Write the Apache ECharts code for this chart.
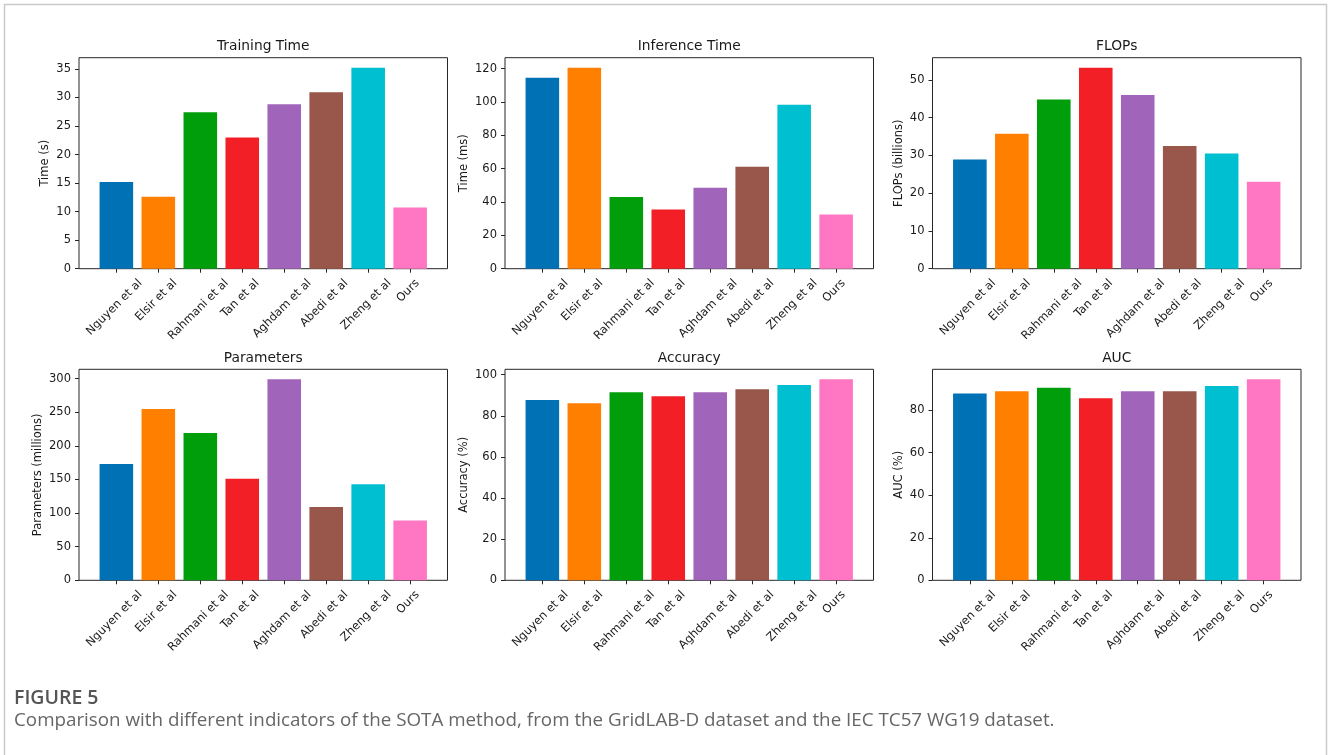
<!DOCTYPE html>
<html>
<head>
<meta charset="utf-8">
<script src="https://cdn.jsdelivr.net/npm/echarts@6/dist/echarts.min.js"></script>
<style>
html,body{margin:0;padding:0;background:#fff;}
#chart{width:1328px;height:755px;}
</style>
</head>
<body>
<div id="chart"></div>
<script>
// ---------------- data ----------------
const categories = ['Nguyen et al', 'Elsir et al', 'Rahmani et al', 'Tan et al', 'Aghdam et al', 'Abedi et al', 'Zheng et al', 'Ours'];
const trainingTime = [15.2, 12.6, 27.4, 23.0, 28.8, 30.9, 35.2, 10.7];
const inferenceTime = [114.6, 120.6, 43.0, 35.6, 48.6, 61.2, 98.4, 32.6];
const flops = [28.9, 35.7, 44.8, 53.2, 46.0, 32.5, 30.5, 23.0];
const parameters = [173, 255, 219, 151, 299, 109, 143, 89];
const accuracy = [87.7, 86.1, 91.4, 89.5, 91.4, 92.9, 95.0, 97.7];
const auc = [87.8, 88.9, 90.6, 85.6, 88.9, 88.9, 91.4, 94.5];

const trainingTicks = [0, 5, 10, 15, 20, 25, 30, 35];
const inferenceTicks = [0, 20, 40, 60, 80, 100, 120];
const flopsTicks = [0, 10, 20, 30, 40, 50];
const parameterTicks = [0, 50, 100, 150, 200, 250, 300];
const accuracyTicks = [0, 20, 40, 60, 80, 100];
const aucTicks = [0, 20, 40, 60, 80];

const titles = ['Training Time', 'Inference Time', 'FLOPs', 'Parameters', 'Accuracy', 'AUC'];
const yLabels = ['Time (s)', 'Time (ms)', 'FLOPs (billions)', 'Parameters (millions)', 'Accuracy (%)', 'AUC (%)'];
const captionHead = 'FIGURE 5';
const captionText = 'Comparison with different indicators of the SOTA method, from the GridLAB-D dataset and the IEC TC57 WG19 dataset.';

const palette = ['#0171b6', '#ff7f00', '#009e0b', '#f21f26', '#a065ba', '#99564a', '#00bfd0', '#ff77c3'];

// ---------------- layout / style ----------------
const FONT = '"DejaVu Sans", sans-serif';
const TICK_SIZE = 11.5;
const TITLE_SIZE = 13.8;
const TEXT_COLOR = '#1a1a1a';
const AX_COLOR = '#262626';
const colLeft = [79, 505, 932.5];
const colWidth = 368.5;
const rowTop = [57.7, 369.3];
const rowHeight = 211;
const LH = 13;

const canvas = document.createElement('canvas');
const ctx = canvas.getContext('2d');
function measure(t, size) { ctx.font = size + 'px ' + FONT; return ctx.measureText(t).width; }

const panels = [
  { values: trainingTime, ticks: trainingTicks },
  { values: inferenceTime, ticks: inferenceTicks },
  { values: flops, ticks: flopsTicks },
  { values: parameters, ticks: parameterTicks },
  { values: accuracy, ticks: accuracyTicks },
  { values: auc, ticks: aucTicks }
];

const labelWidths = categories.map(function (c) { return measure(c, TICK_SIZE); });

function renderCategoryLabel(params, api) {
  const pt = api.coord([api.value(0), 0]);
  const w = labelWidths[params.dataIndex];
  const d = 8 + Math.SQRT1_2 * (w + LH) / 2;
  return {
    type: 'text', x: pt[0] - 2, y: pt[1] + d, rotation: Math.PI / 4, silent: true,
    style: { text: categories[params.dataIndex], align: 'center', verticalAlign: 'middle', font: TICK_SIZE + 'px ' + FONT, fill: TEXT_COLOR }
  };
}

const grid = [], xAxis = [], yAxis = [], series = [], title = [];
panels.forEach(function (p, i) {
  const col = i % 3, row = Math.floor(i / 3);
  const L = colLeft[col], T = rowTop[row], W = colWidth, H = rowHeight;
  const n = categories.length;
  const marginUnits = 0.05 * (n - 1 + 0.8);
  const band = W / (n + 2 * marginUnits);
  const m = band * marginUnits;
  const maxV = Math.max.apply(null, p.values) * 1.05;
  const maxLabelW = Math.max.apply(null, p.ticks.map(function (t) { return measure(String(t), TICK_SIZE); }));

  // outer frame grid
  grid.push({ left: L, top: T, width: W, height: H, show: true, borderColor: AX_COLOR, borderWidth: 1, backgroundColor: 'transparent', containLabel: false, outerBoundsMode: 'none' });
  xAxis.push({ gridIndex: 2 * i, type: 'value', show: false });
  yAxis.push({ gridIndex: 2 * i, type: 'value', show: false });
  // inner data grid
  grid.push({ left: L + m, top: T, width: W - 2 * m, height: H, containLabel: false, outerBoundsMode: 'none' });
  xAxis.push({
    gridIndex: 2 * i + 1, type: 'category', data: categories,
    axisLine: { show: false },
    axisTick: { show: true, alignWithLabel: true, length: 4, lineStyle: { color: AX_COLOR, width: 1 } },
    axisLabel: { show: false, interval: 0 },
    splitLine: { show: false }
  });
  yAxis.push({
    gridIndex: 2 * i + 1, type: 'value', min: 0, max: maxV, offset: m, position: 'left',
    name: yLabels[i], nameLocation: 'middle', nameGap: 8 + maxLabelW + 5,
    nameTextStyle: { fontFamily: FONT, fontSize: TICK_SIZE, color: TEXT_COLOR },
    axisLine: { show: false },
    axisTick: { show: true, length: 4, customValues: p.ticks, lineStyle: { color: AX_COLOR, width: 1 } },
    axisLabel: { customValues: p.ticks, margin: 8, fontFamily: FONT, fontSize: TICK_SIZE, color: TEXT_COLOR },
    splitLine: { show: false }
  });
  series.push({
    type: 'bar', xAxisIndex: 2 * i + 1, yAxisIndex: 2 * i + 1,
    data: p.values, barWidth: '80%', colorBy: 'data', animation: false
  });
  series.push({
    type: 'custom', xAxisIndex: 2 * i + 1, yAxisIndex: 2 * i + 1, clip: false, silent: true,
    data: categories.map(function (c, k) { return [k, 0]; }),
    renderItem: renderCategoryLabel, animation: false
  });
  const tw = measure(titles[i], TITLE_SIZE);
  title.push({
    text: titles[i], left: L + W / 2 - tw / 2, top: T - 18, padding: 0,
    textStyle: { fontFamily: FONT, fontSize: TITLE_SIZE, fontWeight: 'normal', color: TEXT_COLOR }
  });
});

const chart = echarts.init(document.getElementById('chart'), null, { renderer: 'canvas' });
chart.setOption({
  animation: false,
  color: palette,
  backgroundColor: '#ffffff',
  title: title,
  grid: grid,
  xAxis: xAxis,
  yAxis: yAxis,
  series: series,
  graphic: [
    { type: 'rect', shape: { x: 4.5, y: 4.5, width: 1322, height: 800 }, style: { fill: 'none', stroke: '#c9c9c9', lineWidth: 1.5 }, silent: true },
    { type: 'text', left: 14, top: 688, style: { text: captionHead, font: '600 19.5px "Open Sans"', fill: '#555555' } },
    { type: 'text', left: 14, top: 711, style: { text: captionText, font: '18.8px "Open Sans"', fill: '#666666' } }
  ]
});
</script>
</body>
</html>
